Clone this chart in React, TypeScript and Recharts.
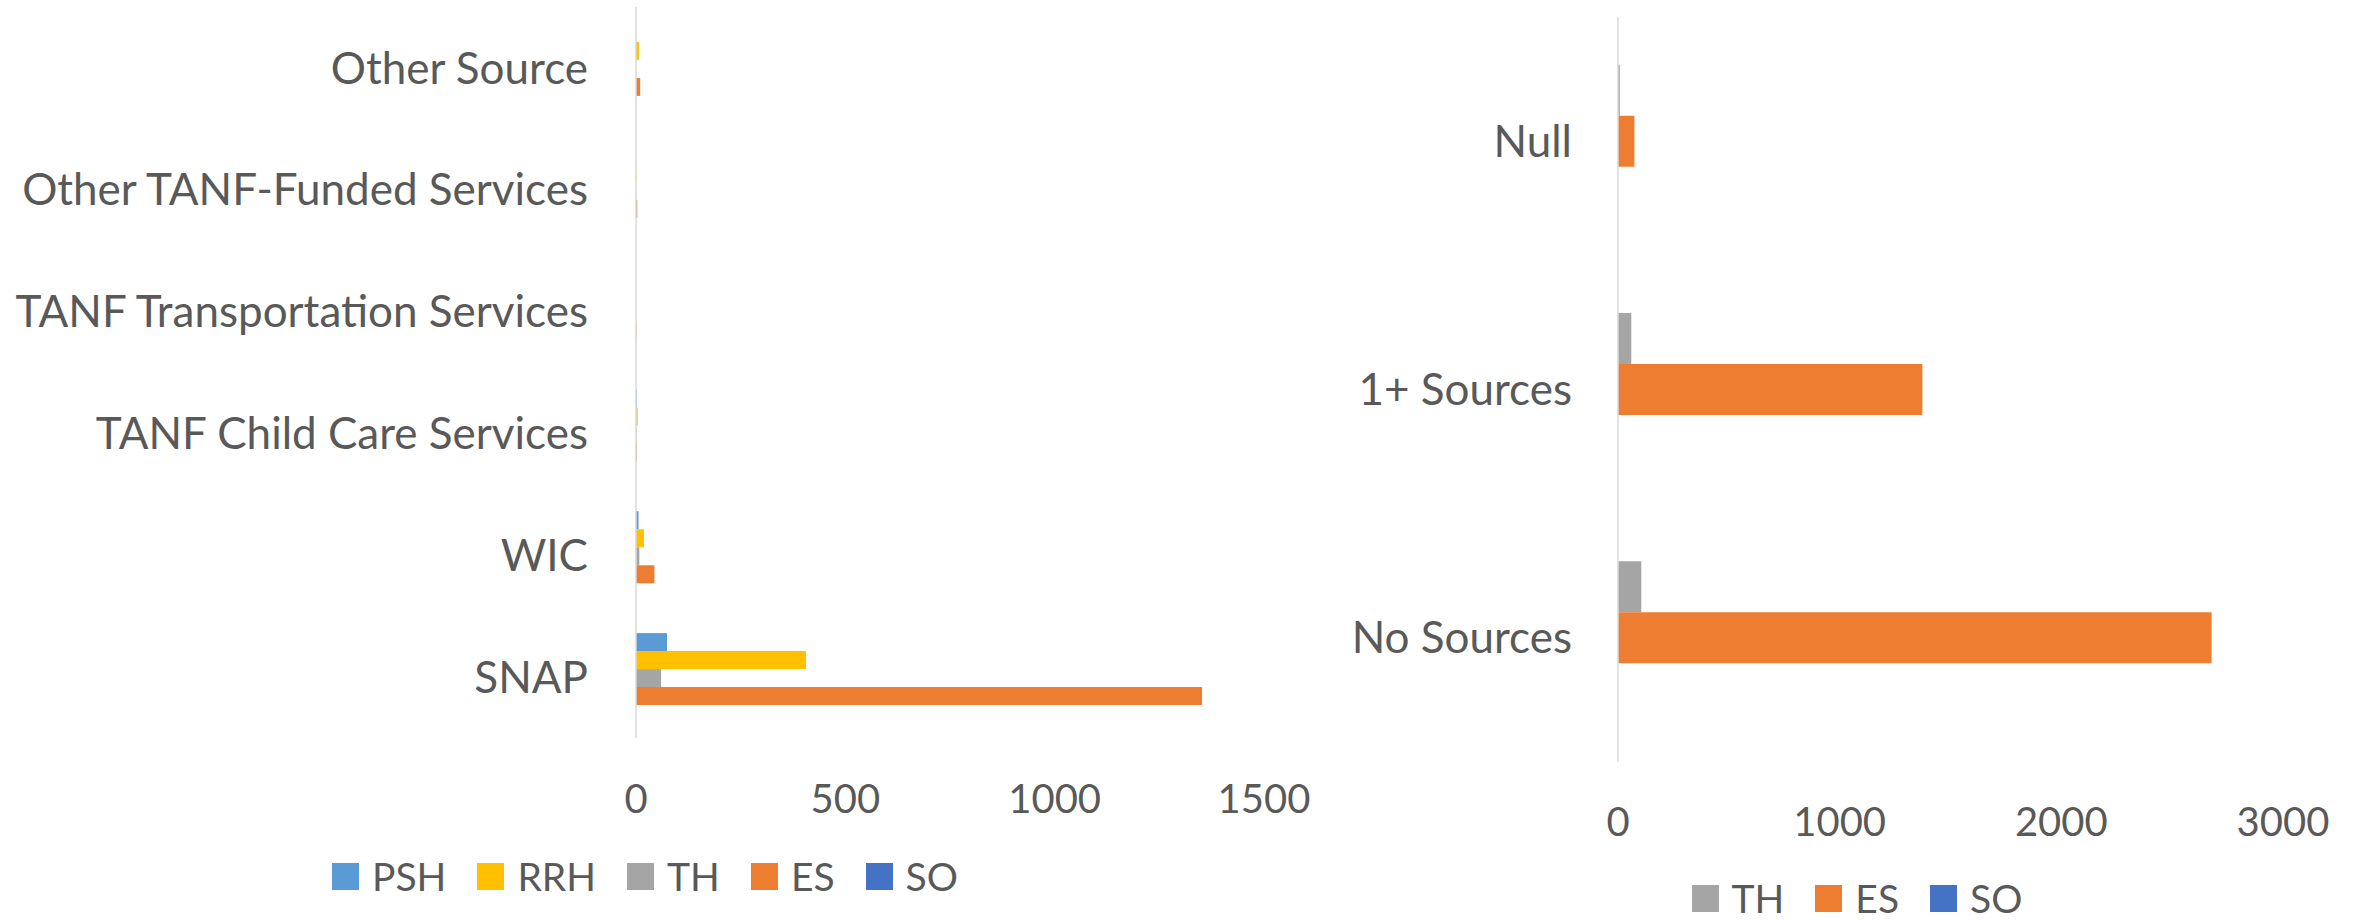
import { BarChart, Bar, XAxis, YAxis, Legend } from 'recharts';

// left chart: benefit sources by project type
const benefitCategories = [
  'Other Source',
  'Other TANF-Funded Services',
  'TANF Transportation Services',
  'TANF Child Care Services',
  'WIC',
  'SNAP',
];
const pshValues = [0, 0, 0, 2, 6, 74];
const rrhValues = [7, 1, 0, 4, 19, 406];
const thValues = [0, 0, 0, 1, 8, 60];
const esValues = [10, 3, 1, 2, 44, 1352];
const soValues = [0, 0, 0, 0, 0, 0];
const benefitTicks = [0, 500, 1000, 1500];
const benefitSeries = ['PSH', 'RRH', 'TH', 'ES', 'SO'];

// right chart: count of sources
const sourceCategories = ['Null', '1+ Sources', 'No Sources'];
const sourceTh = [8, 60, 105];
const sourceEs = [74, 1373, 2678];
const sourceSo = [0, 0, 0];
const sourceTicks = [0, 1000, 2000, 3000];
const sourceSeries = ['TH', 'ES', 'SO'];

const COLORS: Record<string, string> = {
  PSH: '#5B9BD5',
  RRH: '#FFC000',
  TH: '#A5A5A5',
  ES: '#ED7D31',
  SO: '#4472C4',
};

const FONT = 'Lato, "Open Sans", sans-serif';
const TEXT = '#595959';

const benefitData = benefitCategories.map((name, i) => ({
  name,
  PSH: pshValues[i],
  RRH: rrhValues[i],
  TH: thValues[i],
  ES: esValues[i],
  SO: soValues[i],
}));

const sourceData = sourceCategories.map((name, i) => ({
  name,
  TH: sourceTh[i],
  ES: sourceEs[i],
  SO: sourceSo[i],
}));

// legend keeps the series order (recharts sorts by name otherwise)
function makeLegend(order: string[]) {
  return (props: any) => {
    const items = [...(props.payload || [])].sort(
      (a: any, b: any) => order.indexOf(a.value) - order.indexOf(b.value)
    );
    return (
      <div style={{ display: 'flex', justifyContent: 'center', alignItems: 'center', fontFamily: FONT }}>
        {items.map((entry: any, i: number) => (
          <div key={entry.value} style={{ display: 'flex', alignItems: 'center', marginLeft: i === 0 ? 0 : 31 }}>
            <span
              style={{
                width: 27,
                height: 27,
                flexShrink: 0,
                background: entry.color,
                marginRight: 13,
                display: 'inline-block',
              }}
            />
            <span style={{ fontSize: 39, color: TEXT, lineHeight: '44px' }}>{entry.value}</span>
          </div>
        ))}
      </div>
    );
  };
}

export default function App() {
  const tickStyle = { fontSize: 40, fill: TEXT, fontFamily: FONT };
  const catStyle = { fontSize: 44, fill: TEXT, fontFamily: FONT };

  return (
    <div style={{ position: 'absolute', left: 0, top: 0, width: 2359, height: 922, background: '#fff' }}>
      {/* Left chart */}
      <div style={{ position: 'absolute', left: 0, top: 0 }}>
        <BarChart
          width={1340}
          height={922}
          data={benefitData}
          layout="vertical"
          margin={{ top: 7, right: 76, left: 0, bottom: 0 }}
          barCategoryGap="13.9%"
          barGap={0}
        >
          <XAxis
            type="number"
            domain={[0, 1500]}
            ticks={benefitTicks}
            axisLine={false}
            tickLine={false}
            tickMargin={41}
            height={184}
            tick={tickStyle}
          />
          <YAxis
            type="category"
            dataKey="name"
            width={636}
            axisLine={{ stroke: '#D9D9D9', strokeWidth: 1.5 }}
            tickLine={false}
            tickMargin={42}
            tick={catStyle}
            interval={0}
          />
          <Legend
            layout="horizontal"
            verticalAlign="middle"
            align="center"
            wrapperStyle={{ top: 854, left: 0, width: 1290 }}
            content={makeLegend(benefitSeries)}
          />
          {benefitSeries.map((key) => (
            <Bar key={key} dataKey={key} name={key} fill={COLORS[key]} isAnimationActive={false} />
          ))}
        </BarChart>
      </div>

      {/* Right chart */}
      <div style={{ position: 'absolute', left: 1340, top: 0 }}>
        <BarChart
          width={1019}
          height={922}
          data={sourceData}
          layout="vertical"
          margin={{ top: 17, right: 76, left: 0, bottom: 0 }}
          barCategoryGap="19.2%"
          barGap={0}
        >
          <XAxis
            type="number"
            domain={[0, 3000]}
            ticks={sourceTicks}
            axisLine={false}
            tickLine={false}
            tickMargin={40}
            height={160}
            tick={tickStyle}
          />
          <YAxis
            type="category"
            dataKey="name"
            width={278}
            axisLine={{ stroke: '#D9D9D9', strokeWidth: 1.5 }}
            tickLine={false}
            tickMargin={40}
            tick={catStyle}
            interval={0}
          />
          <Legend
            layout="horizontal"
            verticalAlign="middle"
            align="center"
            wrapperStyle={{ top: 876, left: 17, width: 1000 }}
            content={makeLegend(sourceSeries)}
          />
          {sourceSeries.map((key) => (
            <Bar key={key} dataKey={key} name={key} fill={COLORS[key]} isAnimationActive={false} />
          ))}
        </BarChart>
      </div>
    </div>
  );
}
